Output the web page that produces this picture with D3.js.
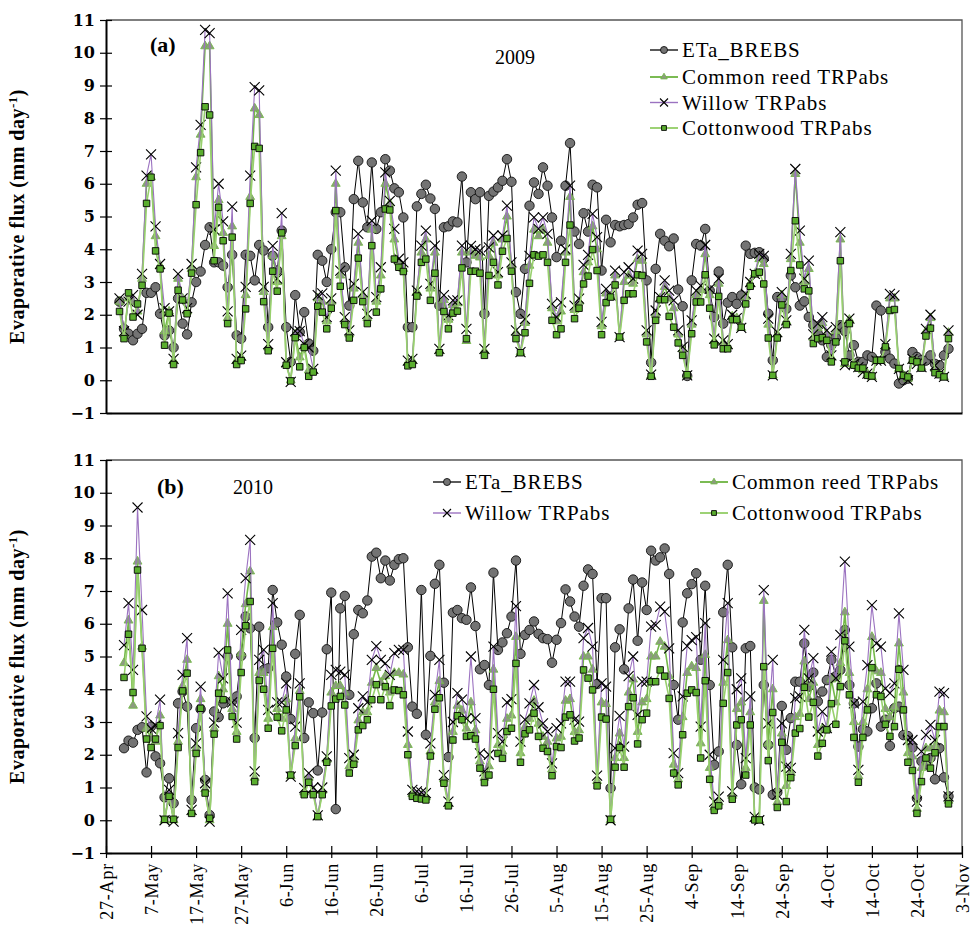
<!DOCTYPE html>
<html>
<head>
<meta charset="utf-8">
<script src="https://cdn.jsdelivr.net/npm/d3@7"></script>
<style>
  body { margin: 0; background: #fff; }
  svg { display: block; }
</style>
</head>
<body>
<svg id="chart" width="974" height="938"></svg>
<script>
// ---- data ----------------------------------------------------------------
const xTickLabels = ["27-Apr", "7-May", "17-May", "27-May", "6-Jun", "16-Jun", "26-Jun",
  "6-Jul", "16-Jul", "26-Jul", "5-Aug", "15-Aug", "25-Aug", "4-Sep", "14-Sep",
  "24-Sep", "4-Oct", "14-Oct", "24-Oct", "3-Nov"];
const yTickValues = [-1, 0, 1, 2, 3, 4, 5, 6, 7, 8, 9, 10, 11];

const seriesNames = ["ETa_BREBS", "Common reed TRPabs", "Willow TRPabs", "Cottonwood TRPabs"];

// 2009: daily values, first day 30 Apr
const firstDayA = "2009-04-30";
const etaA = [
  2.4, 1.57, 1.42, 1.22, 1.42, 1.57, 2.67, 2.67, 2.84, 2.03,
  1.37, 1.52, 1.0, 2.5, 1.73, 1.4, 2.38, 3.0, 3.32, 4.13,
  4.67, 3.6, 3.6, 3.5, 2.84, 3.83, 1.37, 1.27, 3.83, 3.8,
  3.05, 4.13, 3.96, 1.62, 3.8, 3.35, 4.57, 1.62, 0.56, 2.6,
  1.47, 2.08, 1.12, 0.9, 3.83, 3.65, 3.0, 4.0, 5.13, 5.13,
  3.45, 2.28, 5.53, 6.7, 5.43, 4.67, 6.65, 4.62, 5.13, 6.75,
  6.4, 5.86, 5.74, 4.97, 1.62, 1.62, 5.31, 5.69, 5.97, 5.55,
  5.23, 2.28, 4.67, 4.7, 4.85, 4.82, 6.22, 3.6, 5.74, 5.53,
  5.74, 2.03, 5.63, 5.76, 5.89, 6.09, 6.75, 6.06, 2.69, 2.03,
  3.4, 5.33, 6.04, 5.69, 6.5, 5.94, 4.97, 3.76, 4.26, 5.94,
  7.24, 4.54, 4.16, 5.1, 4.54, 5.97, 5.89, 3.35, 4.9, 4.21,
  4.74, 4.7, 4.74, 4.77, 4.97, 5.36, 5.41, 3.05, 0.54, 3.4,
  4.47, 4.26, 4.09, 4.33, 2.77, 2.26, 0.13, 3.05, 4.16, 4.11,
  4.62, 2.74, 1.93, 3.32, 1.73, 2.37, 2.54, 2.33, 2.59, 4.11,
  3.86, 3.89, 3.91, 3.71, 2.03, 0.61, 2.54, 2.49, 2.18, 3.2,
  2.84, 2.28, 2.41, 1.93, 1.68, 1.42, 1.22, 0.71, 1.07, 1.3,
  1.68, 1.5, 0.76, 1.07, 0.56, 0.56, 0.76, 0.71, 2.28, 2.13,
  0.86, 0.66, 0.51, -0.1, 0.0, 0.05, 0.86, 0.71, 0.61, 0.6,
  0.76, 0.5, 0.46, 0.76, 0.96
];
const reedA = [
  2.4, 1.4, 2.5, 2.4, 2.1, 3.1, 6.0, 6.2, 4.4, 3.5,
  1.5, 2.1, 0.6, 3.1, 2.5, 2.1, 3.4, 6.2, 7.5, 10.2,
  10.2, 4.1, 5.5, 4.5, 1.9, 4.7, 0.6, 0.7, 2.6, 5.6,
  8.3, 8.1, 2.7, 1.0, 3.8, 3.0, 4.4, 0.5, 0.0, 1.4,
  0.7, 1.05, 0.3, 0.3, 2.5, 2.4, 1.8, 2.4, 6.0, 3.2,
  1.8, 1.4, 2.8, 4.2, 2.6, 1.9, 4.6, 2.4, 3.2, 6.0,
  5.4, 4.3, 3.6, 3.4, 0.55, 0.6, 2.7, 3.9, 4.3, 2.8,
  3.9, 0.9, 2.45, 1.85, 2.3, 2.35, 3.9, 1.2, 3.9, 3.8,
  3.75, 0.9, 3.8, 4.2, 3.2, 4.3, 5.0, 3.5, 1.45, 0.85,
  1.75, 3.5, 4.6, 4.4, 4.6, 4.2, 2.2, 1.8, 2.1, 3.9,
  5.6, 2.15, 2.4, 3.3, 3.6, 4.7, 4.0, 1.65, 2.65, 2.57,
  3.2, 1.32, 3.0, 3.2, 2.95, 3.7, 3.65, 1.4, 0.15, 2.0,
  2.5, 2.85, 2.5, 2.2, 1.4, 0.95, 0.15, 1.7, 2.6, 2.75,
  3.85, 2.6, 1.2, 2.95, 1.15, 1.05, 1.95, 1.9, 1.6, 2.55,
  2.95, 3.25, 3.7, 3.55, 1.7, 0.15, 1.4, 2.6, 1.8, 3.7,
  6.3, 4.2, 3.0, 3.4, 1.3, 1.6, 1.75, 1.4, 0.7, 1.5,
  4.3, 0.5, 1.85, 0.5, 0.4, 0.3, 0.2, 0.1, 0.6, 0.6,
  1.05, 2.5, 2.5, 0.35, 0.15, 0.05, 0.6, 0.55, 0.4, 1.5,
  1.9, 0.35, 0.2, 0.1, 1.45
];
const willowA = [
  2.5, 1.5, 2.4, 2.6, 2.0, 3.25, 6.25, 6.9, 4.7, 3.55,
  2.2, 2.1, 0.65, 3.25, 2.5, 2.2, 3.55, 6.5, 7.8, 10.7,
  10.6, 4.6, 6.0, 4.85, 2.1, 5.3, 0.65, 0.75, 2.85, 6.25,
  8.95, 8.85, 2.85, 1.1, 4.1, 3.1, 5.1, 0.55, -0.05, 1.5,
  1.5, 1.1, 1.0, 0.35, 2.6, 2.65, 1.93, 2.5, 6.4, 3.35,
  1.93, 1.52, 2.94, 4.47, 2.69, 2.03, 4.87, 2.54, 3.45, 6.35,
  5.48, 4.62, 3.71, 3.6, 0.6, 0.65, 2.74, 4.11, 4.57, 2.94,
  4.11, 0.96, 2.6, 1.98, 2.44, 2.44, 4.11, 1.57, 4.1, 4.0,
  3.96, 0.96, 4.06, 4.42, 3.3, 4.42, 5.33, 3.6, 1.52, 0.86,
  1.87, 3.8, 4.97, 4.62, 4.97, 4.47, 2.33, 1.93, 2.38, 4.0,
  5.94, 2.28, 2.49, 3.52, 3.83, 5.08, 4.37, 1.78, 2.79, 2.59,
  3.35, 1.32, 3.3, 3.45, 3.1, 3.96, 3.86, 1.52, 0.17, 2.13,
  2.54, 3.05, 2.74, 2.44, 1.52, 1.02, 0.15, 1.83, 2.74, 2.89,
  4.13, 2.79, 1.27, 3.1, 1.22, 1.1, 2.0, 1.9, 1.6, 2.64,
  3.0, 3.25, 3.86, 3.8, 1.88, 0.15, 1.47, 2.69, 1.83, 3.86,
  6.45, 4.57, 3.1, 3.65, 1.4, 1.73, 1.93, 1.52, 0.76, 1.62,
  4.52, 0.46, 1.88, 0.5, 0.4, 0.25, 0.2, 0.1, 0.6, 0.6,
  1.1, 2.64, 2.59, 0.35, 0.15, 0.0, 0.65, 0.5, 0.4, 1.57,
  2.0, 0.45, 0.2, 0.1, 1.52
];
const cottonA = [
  2.1, 1.27, 2.67, 1.93, 2.33, 2.9, 5.4, 6.2, 3.95, 3.4,
  1.07, 2.05, 0.48, 2.75, 2.45, 2.03, 3.27, 5.36, 6.95, 8.35,
  8.1, 3.65, 5.28, 4.26, 1.73, 4.37, 0.48, 0.6, 2.18, 5.4,
  7.14, 7.08, 2.4, 0.9, 3.33, 2.72, 4.5, 0.46, -0.02, 1.3,
  0.41, 1.0, 0.12, 0.25, 2.26, 2.08, 1.57, 2.2, 5.18, 2.87,
  1.7, 1.29, 2.44, 3.73, 2.4, 1.73, 4.11, 2.08, 2.79, 5.23,
  5.2, 3.7, 3.45, 3.32, 0.44, 0.48, 2.57, 3.6, 3.7, 2.44,
  3.27, 0.84, 2.1, 1.57, 2.05, 2.11, 3.43, 1.27, 3.33, 3.33,
  3.27, 0.76, 3.2, 3.6, 2.91, 3.94, 4.33, 3.33, 1.27, 0.84,
  1.45, 2.96, 3.83, 3.79, 3.83, 3.6, 1.83, 1.39, 1.57, 3.6,
  4.74, 1.88, 2.2, 2.94, 3.18, 3.99, 3.35, 1.39, 2.37, 2.54,
  2.91, 1.32, 2.44, 2.64, 2.64, 3.22, 3.2, 1.17, 0.12, 1.83,
  2.46, 2.46, 1.95, 1.62, 1.14, 0.76, 0.17, 1.42, 2.39, 2.39,
  3.22, 2.2, 1.08, 2.56, 0.96, 0.96, 1.85, 1.85, 1.62, 2.33,
  2.87, 3.25, 3.3, 2.94, 1.29, 0.15, 1.29, 2.3, 1.7, 3.35,
  4.87, 3.52, 2.79, 2.73, 1.12, 1.27, 1.3, 1.22, 0.56, 1.17,
  3.65, 0.56, 1.73, 0.46, 0.37, 0.37, 0.15, 0.13, 0.61, 0.61,
  1.02, 2.13, 2.16, 0.36, 0.15, 0.1, 0.61, 0.56, 0.37, 1.35,
  1.59, 0.23, 0.17, 0.1, 1.27
];

// 2010: daily values, first day 1 May
const firstDayB = "2010-05-01";
const etaB = [
  2.2, 2.43, 2.37, 2.76, 2.84, 1.46, 2.86, 1.95, 1.74, 0.7,
  1.28, 0.52, 3.57, 3.93, 3.47, 0.62, 2.81, 3.39, 1.23, 0.16,
  3.32, 3.15, 3.57, 5.0, 3.64, 3.78, 5.02, 6.22, 5.86, 2.51,
  5.91, 4.59, 4.64, 7.03, 6.04, 5.36, 4.39, 3.09, 5.08, 6.27,
  2.51, 3.6, 3.27, 1.52, 3.29, 5.22, 6.95, 0.34, 6.47, 6.85,
  3.83, 5.68, 6.42, 6.32, 6.71, 8.05, 8.17, 7.39, 7.93, 7.32,
  7.8, 7.97, 8.0, 5.28, 3.47, 3.25, 7.03, 2.61, 5.02, 7.22,
  7.8, 4.2, 1.93, 6.34, 6.42, 6.17, 6.12, 7.11, 5.93, 4.61,
  4.74, 4.13, 7.56, 5.2, 5.43, 5.71, 6.22, 7.93, 5.08, 5.66,
  5.81, 6.07, 5.69, 5.56, 5.53, 4.81, 5.51, 6.02, 7.05, 6.68,
  6.22, 5.91, 7.16, 7.66, 7.52, 4.16, 6.78, 6.78, 0.98, 5.28,
  5.83, 4.61, 6.47, 7.35, 5.48, 7.26, 6.42, 8.23, 7.93, 8.03,
  8.3, 7.52, 4.13, 3.07, 6.04, 6.93, 7.21, 7.54, 4.9, 7.16,
  4.13, 1.69, 2.1, 6.35, 7.8, 5.28, 2.3, 1.1, 5.25, 5.32,
  1.0, 0.94, 4.13, 2.3, 0.78, 0.85, 3.49, 2.15, 3.12, 4.23,
  4.23, 5.4, 4.08, 4.51, 3.63, 3.93, 4.28, 4.9, 4.4, 4.59,
  5.81, 4.13, 3.57, 2.25, 2.78, 2.71, 3.42, 4.18, 2.86, 3.07,
  2.27, 3.42, 3.47, 2.6, 2.57, 2.22, 0.67, 1.8, 1.7, 1.9,
  1.25, 2.2, 1.31, 0.73
];
const reedB = [
  4.8, 6.1, 3.5, 7.9, 5.3, 2.8, 2.5, 2.4, 3.2, 0.0,
  0.8, 0.0, 2.4, 4.1, 4.9, 0.25, 2.2, 3.7, 0.95, 0.0,
  2.8, 4.4, 4.0, 6.0, 3.4, 2.7, 5.1, 6.6, 7.6, 1.3,
  4.5, 4.5, 3.1, 5.9, 3.4, 3.1, 3.7, 1.35, 2.5, 3.95,
  0.85, 1.3, 0.9, 0.1, 0.9, 1.85, 3.9, 4.1, 4.1, 3.9,
  1.65, 1.85, 3.05, 3.3, 3.3, 4.2, 4.65, 4.2, 4.4, 3.9,
  4.5, 4.5, 4.45, 2.3, 0.8, 0.75, 0.75, 0.7, 2.1, 3.6,
  4.25, 1.25, 0.5, 2.7, 3.5, 3.35, 2.8, 3.6, 2.75, 1.8,
  1.3, 1.65, 4.6, 2.3, 2.1, 3.1, 3.2, 5.6, 2.05, 2.85,
  3.1, 3.65, 2.95, 2.55, 2.4, 1.55, 2.5, 2.55, 3.65, 3.7,
  2.7, 2.75, 5.0, 5.0, 4.6, 1.2, 3.6, 3.55, 0.0, 1.9,
  2.65, 1.9, 3.9, 4.3, 2.7, 3.6, 3.7, 5.0, 5.0, 5.45,
  5.3, 4.4, 1.7, 1.25, 3.15, 4.5, 4.7, 4.65, 2.35, 5.05,
  1.6, 0.4, 0.55, 4.2, 5.5, 0.75, 3.4, 3.6, 1.6, 3.3,
  0.05, 0.0, 6.7, 2.35, 4.0, 0.55, 2.65, 1.05, 1.45, 3.15,
  3.25, 4.85, 3.7, 4.2, 2.3, 2.8, 2.8, 4.3, 3.6, 4.8,
  6.35, 4.5, 3.0, 1.35, 3.0, 4.0, 5.6, 4.55, 4.5, 3.4,
  3.15, 3.45, 5.4, 3.9, 2.05, 1.95, 0.35, 1.6, 2.2, 2.2,
  2.25, 3.35, 3.3, 0.6
];
const willowB = [
  5.35, 6.63, 4.59, 9.55, 6.42, 3.17, 2.8, 2.9, 3.68, 0.0,
  0.93, -0.04, 2.66, 4.44, 5.56, 0.32, 2.35, 4.08, 1.13, -0.04,
  2.98, 5.12, 4.33, 6.93, 3.6, 2.98, 5.81, 7.39, 8.56, 1.49,
  4.9, 5.2, 3.37, 6.63, 3.6, 3.6, 4.18, 1.33, 2.86, 4.18,
  0.98, 1.44, 1.0, 0.15, 1.0, 1.95, 4.44, 4.59, 4.54, 4.44,
  1.9, 2.0, 3.42, 3.78, 3.6, 4.9, 5.32, 4.9, 4.79, 4.44,
  5.1, 5.2, 5.2, 2.71, 0.93, 0.88, 0.85, 0.83, 2.35, 3.83,
  4.9, 1.38, 0.57, 3.0, 3.88, 3.68, 3.1, 5.0, 3.12, 2.04,
  1.49, 2.0, 5.3, 2.66, 2.4, 3.6, 3.7, 6.54, 2.4, 3.07,
  3.57, 4.13, 3.45, 2.96, 2.71, 1.74, 2.81, 2.96, 4.23, 4.23,
  3.07, 3.01, 5.56, 5.87, 5.3, 1.36, 4.18, 4.08, 0.0, 2.2,
  3.19, 2.25, 4.4, 5.0, 3.22, 4.23, 4.23, 5.91, 5.96, 6.52,
  6.37, 5.25, 2.05, 1.44, 3.78, 5.32, 5.5, 5.59, 2.86, 6.02,
  2.0, 0.57, 0.72, 4.9, 6.63, 0.88, 4.0, 4.33, 1.9, 3.78,
  0.1, 0.0, 7.03, 2.96, 4.9, 0.78, 2.96, 1.64, 1.6, 3.73,
  3.78, 5.81, 4.33, 4.95, 2.71, 3.32, 2.81, 5.15, 4.34, 5.66,
  7.9, 5.3, 3.57, 1.54, 3.62, 4.74, 6.57, 5.4, 5.3, 4.03,
  3.88, 4.18, 6.32, 4.59, 2.45, 2.45, 0.57, 2.1, 2.61, 2.91,
  2.45, 3.93, 3.88, 0.73
];
const cottonB = [
  4.36, 5.68, 3.9, 7.64, 5.25, 2.48, 2.22, 2.48, 2.89, 0.03,
  0.73, 0.03, 2.22, 3.95, 4.49, 0.21, 2.04, 3.42, 0.83, 0.06,
  2.63, 3.88, 3.68, 5.2, 3.17, 2.48, 4.51, 5.94, 6.68, 1.18,
  4.27, 4.0, 2.81, 5.25, 3.15, 2.73, 3.37, 1.38, 2.28, 3.77,
  0.78, 1.16, 0.78, 0.11, 0.78, 1.77, 3.49, 3.7, 3.78, 3.52,
  1.44, 1.71, 2.76, 2.89, 3.07, 3.68, 4.14, 3.68, 4.08, 3.5,
  3.98, 3.96, 3.83, 2.0, 0.73, 0.67, 0.65, 0.62, 1.96, 3.39,
  3.74, 1.13, 0.44, 2.45, 3.19, 3.07, 2.56, 2.58, 2.48, 1.59,
  1.15, 1.38, 4.0, 2.04, 1.89, 2.71, 2.81, 4.79, 1.77, 2.64,
  2.76, 3.27, 2.56, 2.2, 2.1, 1.36, 2.25, 2.22, 3.15, 3.22,
  2.42, 2.51, 4.59, 4.34, 3.98, 1.05, 3.15, 3.09, 0.03, 1.62,
  2.22, 1.62, 3.47, 3.74, 2.33, 3.07, 3.27, 4.23, 4.23, 4.59,
  4.4, 3.72, 1.44, 1.08, 2.61, 3.88, 3.98, 3.9, 1.9, 4.26,
  1.25, 0.3, 0.44, 3.57, 4.51, 0.64, 2.91, 3.07, 1.38, 2.91,
  0.01, 0.01, 4.69, 1.82, 3.29, 0.39, 2.38, 0.57, 1.3, 2.66,
  2.8, 4.06, 3.15, 3.6, 1.96, 2.35, 2.76, 3.56, 2.93, 4.08,
  5.48, 3.83, 2.53, 1.16, 2.53, 3.37, 4.66, 3.83, 3.78, 2.93,
  2.56, 2.86, 4.61, 3.37, 1.77, 1.52, 0.21, 1.18, 1.9, 1.59,
  2.06, 2.86, 2.86, 0.5
];

// ---- layout ----------------------------------------------------------------
const svg = d3.select("#chart");
const plotLeft = 106;
const plotRight = 962;
const serif = "'Liberation Serif', 'Times New Roman', serif";

const styles = [
  { line: "#000000", lw: 1, marker: "circle", fill: "#737373", stroke: "#111", size: 70 },
  { line: "#74b84a", lw: 1.6, marker: "triangle", fill: "#8c9b80", stroke: "#74b84a", size: 34 },
  { line: "#9b72c0", lw: 1.1, marker: "times", fill: "none", stroke: "#000", size: 5 },
  { line: "#98d06e", lw: 1.6, marker: "square", fill: "#5aae2e", stroke: "#000", size: 42 }
];

const panels = [
  { top: 20, bottom: 413, year: 2009, first: firstDayA, series: [etaA, reedA, willowA, cottonA],
    tag: "(a)", tagX: 150, yearX: 495, yearY: 64, tagY: 52, showX: false,
    legend: [[650, 50], [650, 77], [650, 102.5], [650, 128]] },
  { top: 460, bottom: 853, year: 2010, first: firstDayB, series: [etaB, reedB, willowB, cottonB],
    tag: "(b)", tagX: 157, yearX: 233, yearY: 494, tagY: 494, showX: true,
    legend: [[433, 482], [700, 482], [433, 513], [700, 513]] }
];

function drawMarker(sel, st) {
  if (st.marker === "times") {
    const s = st.size;
    sel.append("path")
      .attr("d", `M${-s},${-s}L${s},${s}M${s},${-s}L${-s},${s}`)
      .attr("fill", "none")
      .attr("stroke", st.stroke)
      .attr("stroke-width", 1.1);
  } else {
    const type = st.marker === "circle" ? d3.symbolCircle
      : st.marker === "triangle" ? d3.symbolTriangle : d3.symbolSquare;
    sel.append("path")
      .attr("d", d3.symbol().type(type).size(st.size)())
      .attr("fill", st.fill)
      .attr("stroke", st.stroke)
      .attr("stroke-width", 0.9);
  }
}

panels.forEach(p => {
  const start = d3.utcParse("%Y-%m-%d")(p.first);
  const x = d3.scaleUtc()
    .domain([new Date(Date.UTC(p.year, 3, 27)), new Date(Date.UTC(p.year, 10, 3))])
    .range([plotLeft, plotRight]);
  const y = d3.scaleLinear().domain([-1, 11]).range([p.bottom, p.top]);

  const g = svg.append("g");

  // frame (top / right)
  g.append("path")
    .attr("d", `M${plotLeft},${p.top}H${plotRight}V${p.bottom}`)
    .attr("fill", "none")
    .attr("stroke", "#555")
    .attr("stroke-width", 1.3);

  // y axis
  const yAxisG = g.append("g")
    .attr("transform", `translate(${plotLeft},0)`)
    .call(d3.axisLeft(y).tickValues(yTickValues).tickSizeInner(6).tickSizeOuter(0).tickPadding(5));
  yAxisG.select(".domain").attr("stroke", "#000").attr("stroke-width", 2);
  yAxisG.selectAll(".tick line").attr("x1", 6).attr("stroke", "#000").attr("stroke-width", 1.2);
  yAxisG.selectAll(".tick text")
    .attr("font-family", "'DejaVu Serif', serif")
    .attr("font-weight", "bold")
    .attr("font-size", 16)
    .attr("fill", "#000");

  // x axis
  const tickDates = xTickLabels.map((_, i) => d3.utcDay.offset(x.domain()[0], i * 10));
  const xAxis = d3.axisBottom(x).tickSizeOuter(0);
  if (p.showX) {
    xAxis.tickValues(tickDates).tickSizeInner(5).tickFormat((d, i) => xTickLabels[i]);
  } else {
    xAxis.tickValues([]);
  }
  const xAxisG = g.append("g")
    .attr("transform", `translate(0,${p.bottom})`)
    .call(xAxis);
  xAxisG.select(".domain").attr("stroke", "#000").attr("stroke-width", 2.2);
  xAxisG.selectAll(".tick line").attr("y1", -7).attr("stroke", "#000").attr("stroke-width", 1.2);
  xAxisG.selectAll(".tick text")
    .attr("font-family", serif)
    .attr("font-size", 18)
    .attr("letter-spacing", 0.8)
    .attr("fill", "#000")
    .attr("text-anchor", "end")
    .attr("transform", "rotate(-90)")
    .attr("x", -10)
    .attr("y", 0)
    .attr("dy", "0.35em");

  // y title
  const title = g.append("text")
    .attr("transform", `translate(24,${(p.top + p.bottom) / 2}) rotate(-90)`)
    .attr("text-anchor", "middle")
    .attr("font-family", serif)
    .attr("font-weight", "bold")
    .attr("font-size", 20)
    .attr("letter-spacing", 0.5)
    .attr("fill", "#000");
  title.append("tspan").text("Evaporative flux (mm day");
  title.append("tspan").attr("dy", -7).attr("font-size", 13).text("-1");
  title.append("tspan").attr("dy", 7).text(")");

  // series
  p.series.forEach((vals, k) => {
    const st = styles[k];
    const pts = vals.map((v, i) => ({ date: d3.utcDay.offset(start, i), v }));
    const line = d3.line().x(d => x(d.date)).y(d => y(d.v));
    g.append("path")
      .datum(pts)
      .attr("d", line)
      .attr("fill", "none")
      .attr("stroke", st.line)
      .attr("stroke-width", st.lw);
    const mk = g.append("g").selectAll("g")
      .data(pts)
      .join("g")
      .attr("transform", d => `translate(${x(d.date)},${y(d.v)})`);
    drawMarker(mk, st);
  });

  // labels
  g.append("text")
    .attr("x", p.tagX).attr("y", p.tagY)
    .attr("font-family", serif).attr("font-weight", "bold").attr("font-size", 22)
    .text(p.tag);
  g.append("text")
    .attr("x", p.yearX).attr("y", p.yearY)
    .attr("font-family", serif).attr("font-size", 20)
    .text(String(p.year));

  // legend
  seriesNames.forEach((name, k) => {
    const [lx, ly] = p.legend[k];
    const st = styles[k];
    const lg = g.append("g").attr("transform", `translate(${lx},${ly})`);
    lg.append("line")
      .attr("x1", 0).attr("x2", 28).attr("y1", 0).attr("y2", 0)
      .attr("stroke", st.line).attr("stroke-width", st.lw + 0.3);
    drawMarker(lg.append("g").attr("transform", "translate(14,0)"),
      Object.assign({}, st, { size: st.marker === "times" ? 4 : st.size * 0.55 }));
    lg.append("text")
      .attr("x", 32).attr("y", 0).attr("dy", "0.35em")
      .attr("font-family", serif).attr("font-size", 21)
      .attr("letter-spacing", 0.9)
      .text(name);
  });
});
</script>
</body>
</html>
